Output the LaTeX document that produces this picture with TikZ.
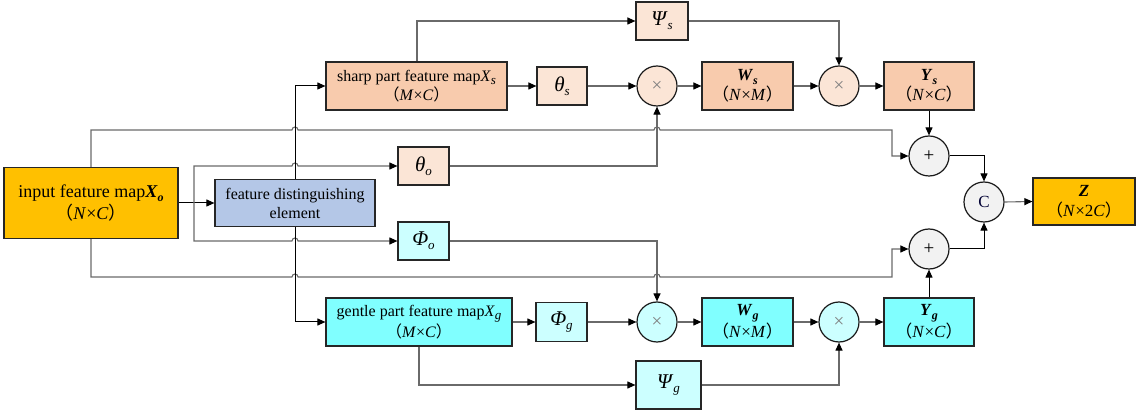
\documentclass[tikz,border=0pt]{standalone}
\usepackage{fontspec}
\setmainfont{Liberation Serif}
\newfontfamily\cjkfont{Noto Sans CJK SC}
\usetikzlibrary{arrows.meta}
\definecolor{inY}{HTML}{FFC000}
\definecolor{peach}{HTML}{F8CBAD}
\definecolor{lpeach}{HTML}{FBE5D6}
\definecolor{cyanA}{HTML}{80FFFF}
\definecolor{lcyan}{HTML}{CCFFFF}
\definecolor{fdeC}{HTML}{B4C7E7}
\definecolor{gcirc}{HTML}{F2F2F2}
\definecolor{lineG}{HTML}{6A6A6A}
\newcommand\fwl{{\cjkfont （}}
\newcommand\fwr{{\cjkfont ）}}
\newcommand\sbs[1]{\raisebox{-0.45ex}{\fontsize{13}{13}\selectfont\itshape #1}}
\newcommand\bsbs[1]{\raisebox{-0.45ex}{\fontsize{12}{12}\selectfont\bfseries\itshape #1}}
\begin{document}
\begin{tikzpicture}[x=1pt,y=-1pt,
  box/.style={draw=black!85,line width=1.2pt,inner sep=0pt,align=center,font=\fontsize{16}{19}\selectfont},
  gbox/.style={box,font=\fontsize{21}{22}\selectfont},
  opc/.style={circle,draw=black!90,line width=1.2pt,inner sep=0pt,minimum size=40pt,font=\fontsize{19}{19}\selectfont},
  conn/.style={draw=lineG,line width=1.1pt,-{Triangle[length=8pt,width=7pt,color=black]}},
  blk/.style={draw=black,line width=1pt,-{Triangle[length=8pt,width=7pt]}}]
\useasboundingbox (0,0) rectangle (1140,411);

% boxes
\node[box,fill=inY,minimum width=174pt,minimum height=71pt,font=\fontsize{18}{22}\selectfont] (inp) at (91,203)
  {input feature map\textbf{\textit{X}}\bsbs{o}\\\fwl\textit{N}×\textit{C}\fwr};
\node[box,fill=fdeC,minimum width=160pt,minimum height=47pt] (fde) at (295,203)
  {feature distinguishing\\element};
\node[box,fill=peach,minimum width=181pt,minimum height=48pt] (shp) at (416.5,86)
  {sharp part feature map\textit{X}\sbs{s}\\\fwl\textit{M}×\textit{C}\fwr};
\node[box,fill=cyanA,minimum width=186pt,minimum height=48pt] (gen) at (419,322)
  {gentle part feature map\textit{X}\sbs{g}\\\fwl\textit{M}×\textit{C}\fwr};
\node[gbox,fill=lpeach,minimum width=50pt,minimum height=38pt] (ths) at (562,86) {\textit{θ}\sbs{s}};
\node[gbox,fill=lcyan,minimum width=51pt,minimum height=39pt] (phg) at (561.5,322) {\textit{Φ}\sbs{g}};
\node[gbox,fill=lpeach,minimum width=52pt,minimum height=38pt] (psis) at (662,21) {\textit{Ψ}\sbs{s}};
\node[gbox,fill=lcyan,minimum width=65pt,minimum height=48pt] (psig) at (668.5,385) {\textit{Ψ}\sbs{g}};
\node[gbox,fill=lpeach,minimum width=51pt,minimum height=38pt] (tho) at (423.5,166) {\textit{θ}\sbs{o}};
\node[gbox,fill=lcyan,minimum width=51pt,minimum height=38pt] (pho) at (423.5,241) {\textit{Φ}\sbs{o}};
\node[box,fill=peach,minimum width=91pt,minimum height=48pt,font=\fontsize{17}{20}\selectfont] (ws) at (747.5,86)
  {\textbf{\textit{W}}\bsbs{s}\\\fwl\textit{N}×\textit{M}\fwr};
\node[box,fill=cyanA,minimum width=91pt,minimum height=48pt,font=\fontsize{17}{20}\selectfont] (wg) at (747.5,322)
  {\textbf{\textit{W}}\bsbs{g}\\\fwl\textit{N}×\textit{M}\fwr};
\node[box,fill=peach,minimum width=90pt,minimum height=48pt,font=\fontsize{17}{20}\selectfont] (ys) at (929,86)
  {\textbf{\textit{Y}}\bsbs{s}\\\fwl\textit{N}×\textit{C}\fwr};
\node[box,fill=cyanA,minimum width=90pt,minimum height=48pt,font=\fontsize{17}{20}\selectfont] (yg) at (929,322)
  {\textbf{\textit{Y}}\bsbs{g}\\\fwl\textit{N}×\textit{C}\fwr};
\node[box,fill=inY,minimum width=102pt,minimum height=47pt,font=\fontsize{17}{20}\selectfont] (z) at (1084,201.5)
  {\textbf{\textit{Z}}\\\fwl\textit{N}×2\textit{C}\fwr};

% operators
\node[opc,fill=lpeach] (mul1) at (657,86) {\color{gray}×};
\node[opc,fill=lpeach] (mul2) at (839,86) {\color{gray}×};
\node[opc,fill=lcyan] (mul3) at (657,322) {\color{gray}×};
\node[opc,fill=lcyan] (mul4) at (839,322) {\color{gray}×};
\node[opc,fill=gcirc] (add1) at (929,156) {+};
\node[opc,fill=gcirc] (add2) at (929,249) {+};
\node[opc,fill=gcirc,font=\fontsize{17}{17}\selectfont] (cat) at (984,202) {\color{black!80!blue}C};

% input skip lines with hops
\draw[conn] (inp.north) |- (292,130) arc[start angle=180,end angle=0,radius=3pt]
  -- (654,130) arc[start angle=180,end angle=0,radius=3pt] -- (892,130) |- (add1.west);
\draw[conn] (inp.south) |- (292,277) arc[start angle=180,end angle=0,radius=3pt]
  -- (654,277) arc[start angle=180,end angle=0,radius=3pt] -- (892,277) |- (add2.west);

% input to fde and branches
\draw[blk] (inp.east) -- (fde.west);
\coordinate (br) at (194,203);
\draw[conn] (br) |- (292,166) arc[start angle=180,end angle=0,radius=3pt] -- (tho.west);
\draw[conn] (br) |- (292,241) arc[start angle=180,end angle=0,radius=3pt] -- (pho.west);

% fde to sharp / gentle
\draw[blk] (fde.north) |- (shp.west);
\draw[blk] (fde.south) |- (gen.west);

% sharp row
\draw[conn] (shp.east) -- (ths.west);
\draw[conn] (ths.east) -- (mul1.west);
\draw[conn] (mul1.east) -- (ws.west);
\draw[conn] (ws.east) -- (mul2.west);
\draw[conn] (mul2.east) -- (ys.west);
\draw[conn] ([xshift=0.5pt]shp.north) |- (psis.west);
\draw[conn] (psis.east) -| (mul2.north);
\draw[conn] (tho.east) -| (mul1.south);

% gentle row
\draw[conn] (gen.east) -- (phg.west);
\draw[conn] (phg.east) -- (mul3.west);
\draw[conn] (mul3.east) -- (wg.west);
\draw[conn] (wg.east) -- (mul4.west);
\draw[conn] (mul4.east) -- (yg.west);
\draw[conn] (gen.south) |- (psig.west);
\draw[conn] (psig.east) -| (mul4.south);
\draw[conn] (pho.east) -| (mul3.north);

% merge
\draw[blk] (ys.south) -- (add1.north);
\draw[blk] (yg.north) -- (add2.south);
\draw[blk] (add1.east) -| (cat.north);
\draw[blk] (add2.east) -| (cat.south);
\draw[conn] (cat.east) -- (z.west);
\end{tikzpicture}
\end{document}
